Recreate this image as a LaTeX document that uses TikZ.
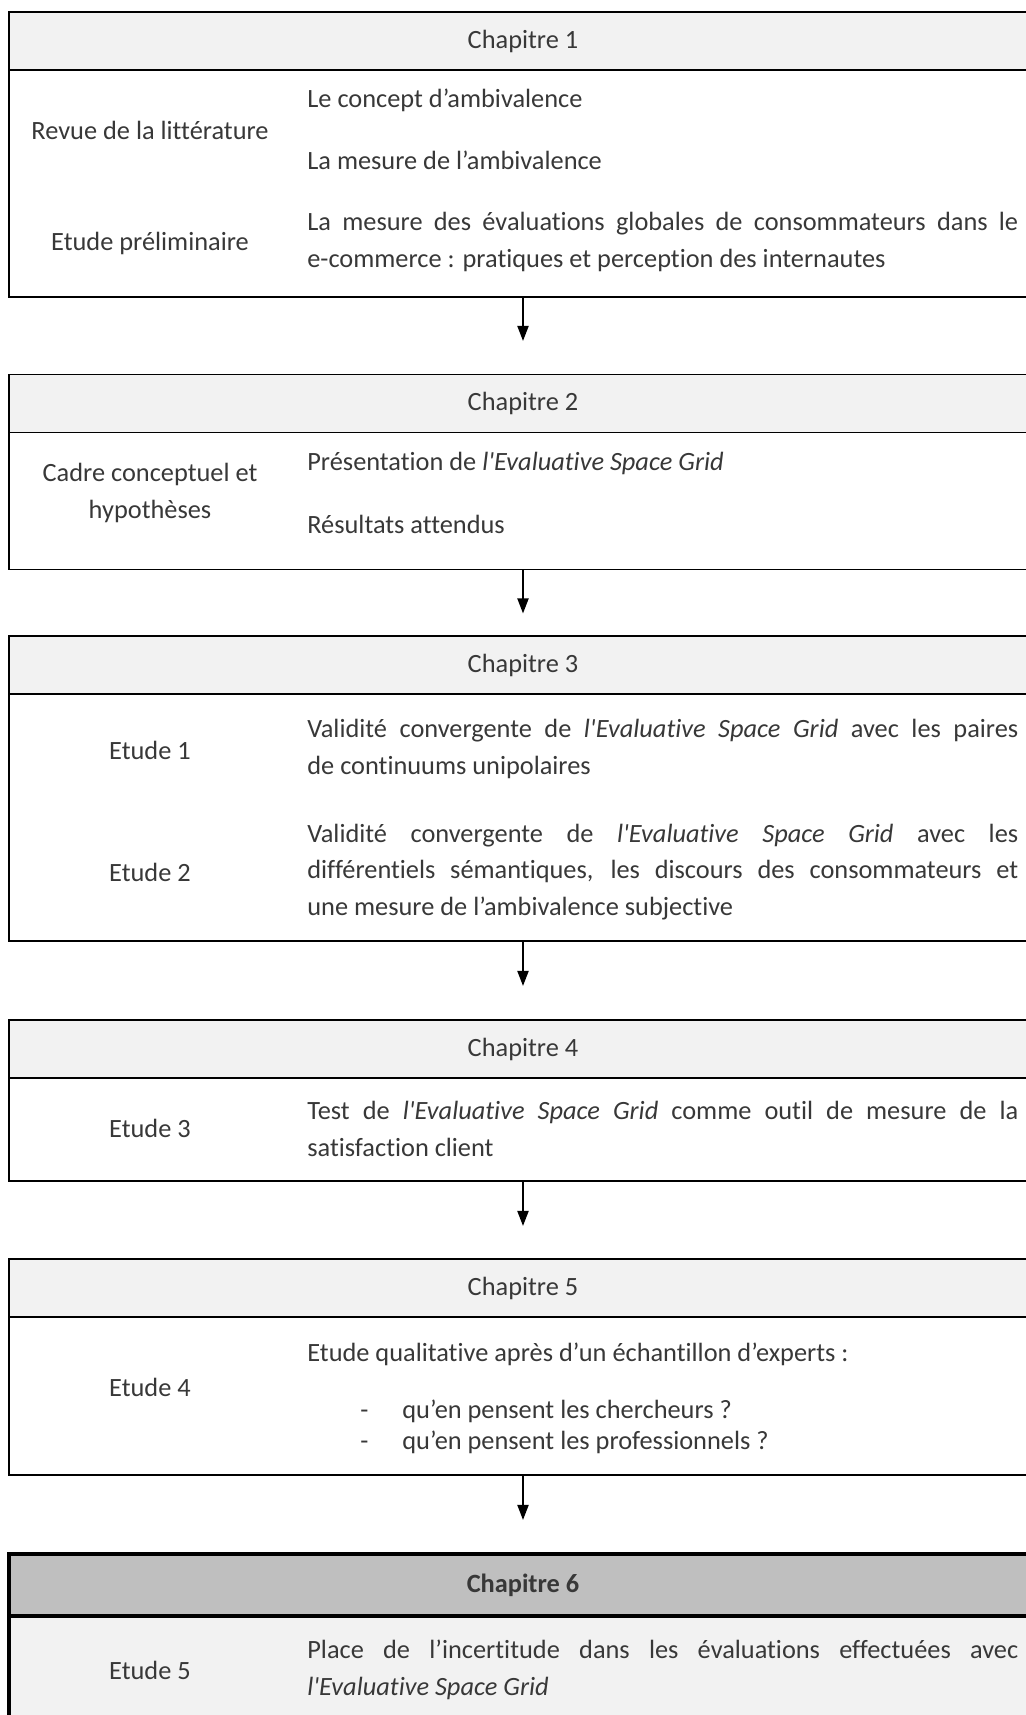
\documentclass[tikz,border=0pt]{standalone}
\usepackage{fontspec}
\setmainfont{Carlito}[Ligatures=NoCommon]
\usetikzlibrary{arrows.meta, positioning}
\tolerance=10000
\hbadness=10000

\begin{document}
\begin{tikzpicture}[x=0.02cm, y=-0.02cm,
  font=\fontsize{15}{21}\selectfont, text=black!78,
  head/.style={draw, fill=black!5, line width=1.1pt, outer sep=0pt, inner sep=0pt,
               minimum width=20.56cm, minimum height=1.16cm},
  body/.style={draw, fill=white, line width=1.1pt, outer sep=0pt, inner sep=0pt,
               minimum width=20.56cm},
  lft/.style={inner sep=0pt, align=center},
  rgt/.style={inner sep=0pt, anchor=west, text width=14.22cm, align=justify},
  item/.style={inner sep=0pt, anchor=west},
  arr/.style={-{Triangle[length=0.3cm, width=0.22cm]}, line width=1.1pt}
]
  \useasboundingbox (0,0) rectangle (1025,1715);

  % Chapitre 1
  \node[head] (h1) at (523,41) {Chapitre 1};
  \node[body, minimum height=4.54cm, below=0pt of h1] (b1) {};
  \node[lft] (l1a) at (150,130) {Revue de la littérature};
  \node[lft] (l1b) at (150,243) {Etude préliminaire};
  \node[rgt] (r1a) at (307,100) {Le concept d’ambivalence};
  \node[rgt] (r1b) at (307,160) {La mesure de l’ambivalence};
  \node[rgt] (r1c) at (307,242) {La mesure des évaluations globales de consommateurs dans le\linebreak
    e-commerce : pratiques et perception des internautes};

  % Chapitre 2
  \node[head] (h2) at (523,403.5) {Chapitre 2};
  \node[body, minimum height=2.74cm, below=0pt of h2] (b2) {};
  \node[lft] (l2) at (150,493) {Cadre conceptuel et\\hypothèses};
  \node[rgt] (r2a) at (307,463) {Présentation de \textit{l\textquotesingle Evaluative Space Grid}};
  \node[rgt] (r2b) at (307,524) {Résultats attendus};

  % Chapitre 3
  \node[head] (h3) at (523,665) {Chapitre 3};
  \node[body, minimum height=4.94cm, below=0pt of h3] (b3) {};
  \node[lft] (l3a) at (150,750) {Etude 1};
  \node[lft] (l3b) at (150,872) {Etude 2};
  \node[rgt] (r3a) at (307,749) {Validité convergente de \textit{l\textquotesingle Evaluative Space Grid} avec les paires\linebreak
    de continuums unipolaires};
  \node[rgt] (r3b) at (307,872) {Validité convergente de \textit{l\textquotesingle Evaluative Space Grid} avec les\linebreak
    différentiels sémantiques, les discours des consommateurs et\linebreak
    une mesure de l’ambivalence subjective};

  % Chapitre 4
  \node[head] (h4) at (523,1049) {Chapitre 4};
  \node[body, minimum height=2.06cm, below=0pt of h4] (b4) {};
  \node[lft] (l4) at (150,1128) {Etude 3};
  \node[rgt] (r4) at (307,1129) {Test de \textit{l\textquotesingle Evaluative Space Grid} comme outil de mesure de la\linebreak
    satisfaction client};

  % Chapitre 5
  \node[head] (h5) at (523,1288) {Chapitre 5};
  \node[body, minimum height=3.16cm, below=0pt of h5] (b5) {};
  \node[lft] (l5) at (150,1387) {Etude 4};
  \node[rgt] (r5) at (307,1354) {Etude qualitative après d’un échantillon d’experts :};
  \node[item] (r5a) at (360,1411) {\makebox[0.84cm][l]{-}qu’en pensent les chercheurs ?};
  \node[item] (r5b) at (360,1442) {\makebox[0.84cm][l]{-}qu’en pensent les professionnels ?};

  % Chapitre 6
  \node[head, fill=black!25, line width=2.3pt, minimum height=1.24cm] (h6) at (523,1585) {\textbf{Chapitre 6}};
  \node[body, fill=black!5, line width=2.3pt, minimum height=3cm, below=0pt of h6] (b6) {};
  \node[lft] (l6) at (150,1670) {Etude 5};
  \node[rgt] (r6) at (307,1670) {Place de l’incertitude dans les évaluations effectuées avec\linebreak
    \textit{l\textquotesingle Evaluative Space Grid}};

  % fleches
  \coordinate[below=0.88cm of b1] (t1);
  \coordinate[below=0.88cm of b2] (t2);
  \coordinate[below=0.9cm of b3] (t3);
  \coordinate[below=0.9cm of b4] (t4);
  \coordinate[below=0.9cm of b5] (t5);
  \draw[arr] (b1.south) -- (t1);
  \draw[arr] (b2.south) -- (t2);
  \draw[arr] (b3.south) -- (t3);
  \draw[arr] (b4.south) -- (t4);
  \draw[arr] (b5.south) -- (t5);
\end{tikzpicture}
\end{document}
